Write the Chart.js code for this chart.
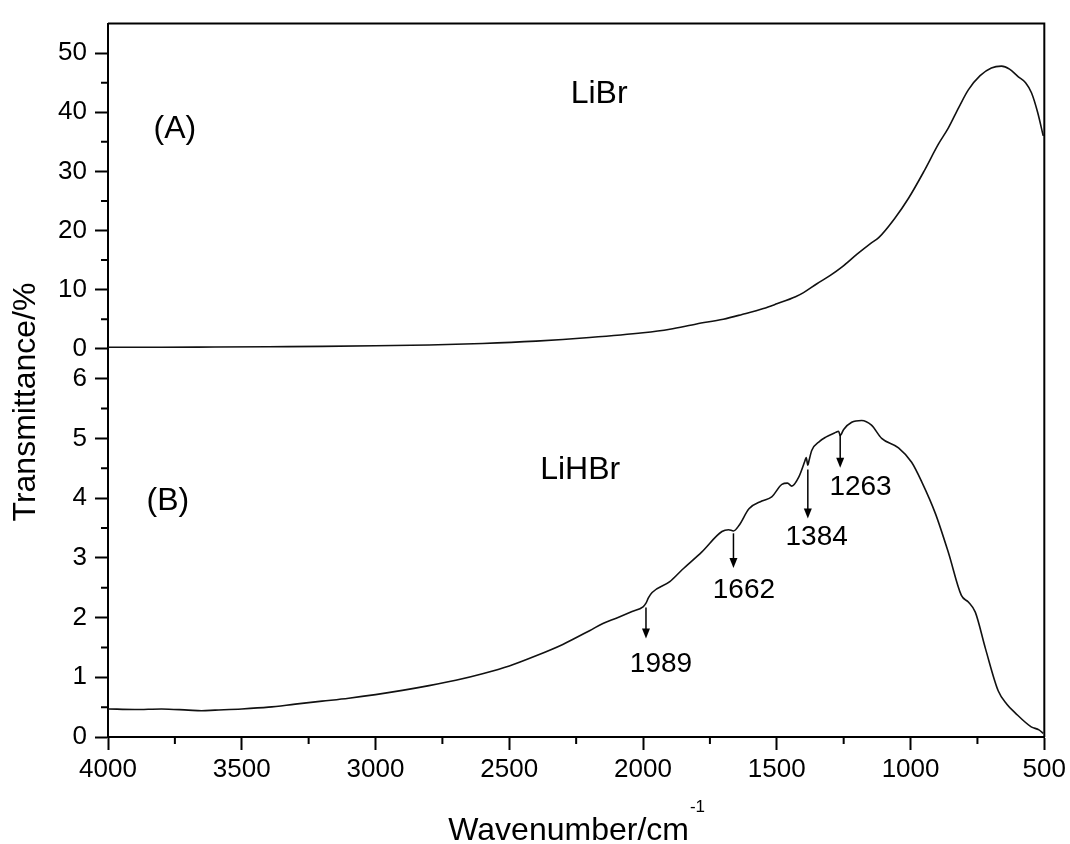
<!DOCTYPE html>
<html>
<head>
<meta charset="utf-8">
<script src="https://cdn.jsdelivr.net/npm/chart.js@4.4.1/dist/chart.umd.min.js"></script>
<style>
  html, body { margin: 0; padding: 0; background: #fff; }
</style>
</head>
<body>
<canvas id="myChart" width="1070" height="844"></canvas>
<script>
// wavenumbers (cm-1) and transmittance (%)
const wnLiBr = [4000, 3800, 3600, 3400, 3200, 3000, 2800, 2600, 2400, 2200, 2000, 1900, 1800, 1700, 1630,
  1550, 1500, 1430, 1400, 1350, 1300, 1257, 1200, 1150, 1119, 1060, 1007, 950, 896, 858, 820, 784, 740,
  698, 660, 630, 597, 570, 548, 525, 504];
const tLiBr = [0.25, 0.25, 0.3, 0.35, 0.4, 0.5, 0.65, 0.9, 1.3, 1.9, 2.7, 3.3, 4.2, 5.0, 5.8,
  6.8, 7.6, 8.8, 9.5, 11, 12.4, 13.8, 16, 17.8, 18.8, 22, 25.5, 30, 34.6, 37.4, 40.8, 43.8, 46.2,
  47.5, 47.8, 47.3, 46, 45, 43.3, 40, 36];

const wnLiHBr = [4000, 3900, 3800, 3700, 3650, 3600, 3500, 3400, 3300, 3200, 3100, 3000, 2900, 2800, 2700,
  2600, 2500, 2400, 2300, 2200, 2150, 2100, 2041, 2000, 1989, 1980, 1966, 1900, 1854, 1780, 1705, 1680,
  1662, 1640, 1604, 1556, 1519, 1481, 1460, 1444, 1418, 1395, 1390, 1384, 1380, 1369, 1340, 1317, 1280,
  1269, 1263, 1250, 1220, 1183, 1146, 1108, 1045, 996, 959, 907, 858, 810, 784, 758, 720, 672, 640,
  608, 549, 520, 504];
const tLiHBr = [0.47, 0.46, 0.47, 0.45, 0.44, 0.45, 0.47, 0.5, 0.55, 0.6, 0.65, 0.71, 0.78, 0.86, 0.95,
  1.06, 1.19, 1.36, 1.55, 1.78, 1.9, 1.99, 2.1, 2.18, 2.24, 2.33, 2.42, 2.6, 2.8, 3.1, 3.44, 3.47,
  3.45, 3.55, 3.82, 3.95, 4.02, 4.23, 4.25, 4.2, 4.35, 4.62, 4.68, 4.55, 4.62, 4.8, 4.95, 5.02, 5.1,
  5.12, 5.05, 5.15, 5.27, 5.3, 5.22, 5.0, 4.84, 4.6, 4.28, 3.74, 3.08, 2.37, 2.26, 2.09, 1.48, 0.77, 0.55,
  0.4, 0.17, 0.12, 0.06];

const xTicks = [4000, 3500, 3000, 2500, 2000, 1500, 1000, 500];
const yTicksA = [0, 10, 20, 30, 40, 50];
const yTicksB = [0, 1, 2, 3, 4, 5, 6];

// marked bands in the LiHBr spectrum
const peaks = [1989, 1662, 1384, 1263];
const peakLabels = ['1989', '1662', '1384', '1263'];

const FONT = "'Liberation Sans', Arial, sans-serif";
Chart.defaults.font.family = FONT;
Chart.defaults.color = '#000';

function toPoints(xs, ys) {
  return xs.map((x, i) => ({ x: x, y: ys[i] }));
}

// placement of arrows / labels (in data units)
const arrowFrom = [2.17, 3.41, 4.48, 5.06];
const arrowTo = [1.65, 2.83, 3.66, 4.51];
const labelAt = [[1933, 1.22], [1623, 2.45], [1351, 3.34], [1187, 4.18]];

const extras = {
  id: 'extras',
  afterDraw(chart) {
    const c = chart.ctx;
    const a = chart.chartArea;
    const sx = chart.scales.x, sA = chart.scales.yA, sB = chart.scales.yB;
    c.save();
    // top + right frame
    c.strokeStyle = '#000';
    c.lineWidth = 2;
    c.beginPath();
    c.moveTo(a.left, a.top);
    c.lineTo(a.right, a.top);
    c.lineTo(a.right, a.bottom);
    c.stroke();

    // minor ticks
    c.beginPath();
    for (let v = 750; v < 4000; v += 500) {
      const px = sx.getPixelForValue(v);
      c.moveTo(px, a.bottom); c.lineTo(px, a.bottom + 7);
    }
    for (let v = 5; v < 55; v += 10) {
      const py = sA.getPixelForValue(v);
      c.moveTo(a.left, py); c.lineTo(a.left - 7, py);
    }
    for (let v = 0.5; v < 6.5; v += 1) {
      const py = sB.getPixelForValue(v);
      c.moveTo(a.left, py); c.lineTo(a.left - 7, py);
    }
    c.stroke();

    // panel texts
    c.fillStyle = '#000';
    c.textAlign = 'center';
    c.textBaseline = 'middle';
    c.font = '32px ' + FONT;
    c.fillText('LiBr', sx.getPixelForValue(2164), sA.getPixelForValue(43));
    c.fillText('(A)', sx.getPixelForValue(3750), sA.getPixelForValue(37.2));
    c.fillText('LiHBr', sx.getPixelForValue(2235), sB.getPixelForValue(4.46));
    c.fillText('(B)', sx.getPixelForValue(3776), sB.getPixelForValue(3.95));

    // arrows and band labels
    c.font = '28px ' + FONT;
    peaks.forEach((p, i) => {
      const px = sx.getPixelForValue(p);
      const y1 = sB.getPixelForValue(arrowFrom[i]);
      const y2 = sB.getPixelForValue(arrowTo[i]);
      c.lineWidth = 1.5;
      c.beginPath();
      c.moveTo(px, y1); c.lineTo(px, y2 - 8);
      c.stroke();
      c.beginPath();
      c.moveTo(px - 4, y2 - 10); c.lineTo(px + 4, y2 - 10); c.lineTo(px, y2);
      c.closePath();
      c.fill();
      c.fillText(peakLabels[i], sx.getPixelForValue(labelAt[i][0]), sB.getPixelForValue(labelAt[i][1]));
    });

    // axis titles
    c.font = '32px ' + FONT;
    c.save();
    c.translate(26, 402);
    c.rotate(-Math.PI / 2);
    c.fillText('Transmittance/%', 0, 0);
    c.restore();

    const main = 'Wavenumber/cm';
    const wMain = c.measureText(main).width;
    c.font = '17px ' + FONT;
    const wSup = c.measureText('-1').width;
    const x0 = (a.left + a.right) / 2 - (wMain + wSup) / 2;
    c.textAlign = 'left';
    c.textBaseline = 'alphabetic';
    c.font = '32px ' + FONT;
    c.fillText(main, x0, 840);
    c.font = '17px ' + FONT;
    c.fillText('-1', x0 + wMain + 1, 812);
    c.restore();
  }
};

const tickFont = { size: 26, family: FONT };
const plain = v => String(v);

const chart = new Chart(document.getElementById('myChart'), {
  type: 'line',
  data: {
    datasets: [
      {
        label: 'LiHBr',
        data: toPoints(wnLiHBr, tLiHBr),
        yAxisID: 'yB',
        borderColor: '#111',
        borderWidth: 1.6,
        pointRadius: 0,
        cubicInterpolationMode: 'monotone'
      },
      {
        label: 'LiBr',
        data: toPoints(wnLiBr, tLiBr),
        yAxisID: 'yA',
        borderColor: '#111',
        borderWidth: 1.6,
        pointRadius: 0,
        cubicInterpolationMode: 'monotone'
      }
    ]
  },
  options: {
    responsive: false,
    animation: false,
    layout: { padding: { top: 13, right: 24, left: 0, bottom: 0 } },
    plugins: { legend: { display: false }, tooltip: { enabled: false } },
    scales: {
      x: {
        type: 'linear',
        reverse: true,
        min: 500,
        max: 4000,
        afterBuildTicks: s => { s.ticks = xTicks.map(v => ({ value: v })); },
        ticks: { font: tickFont, color: '#000', padding: 4, maxRotation: 0, autoSkip: false, callback: plain },
        grid: { drawOnChartArea: false, tickLength: 13, tickColor: '#000', tickWidth: 2 },
        border: { color: '#000', width: 2 },
        afterFit: s => { s.height = 107; }
      },
      yB: {
        type: 'linear',
        position: 'left',
        stack: 'panels',
        stackWeight: 394,
        min: 0,
        max: 6.5,
        afterBuildTicks: s => { s.ticks = yTicksB.map(v => ({ value: v })); },
        ticks: { font: tickFont, color: '#000', padding: 8, callback: plain },
        grid: { drawOnChartArea: false, tickLength: 13, tickColor: '#000', tickWidth: 2 },
        border: { color: '#000', width: 2 },
        afterFit: s => { s.width = 108; }
      },
      yA: {
        type: 'linear',
        position: 'left',
        stack: 'panels',
        stackWeight: 330,
        min: 0,
        max: 55,
        afterBuildTicks: s => { s.ticks = yTicksA.map(v => ({ value: v })); },
        ticks: { font: tickFont, color: '#000', padding: 8, callback: plain },
        grid: { drawOnChartArea: false, tickLength: 13, tickColor: '#000', tickWidth: 2 },
        border: { color: '#000', width: 2 },
        afterFit: s => { s.width = 108; }
      }
    }
  },
  plugins: [extras]
});
</script>
</body>
</html>
